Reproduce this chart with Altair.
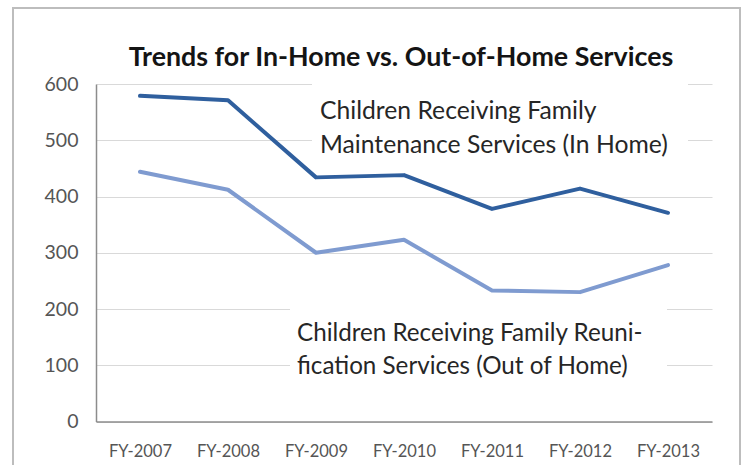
import altair as alt
import pandas as pd

years = ["FY-2007", "FY-2008", "FY-2009", "FY-2010", "FY-2011", "FY-2012", "FY-2013"]
in_home = [579, 571, 434, 438, 378, 414, 371]
out_of_home = [444, 412, 300, 323, 233, 230, 278]
series_names = ["In Home", "Out of Home"]
y_ticks = [0, 100, 200, 300, 400, 500, 600]

title_text = "Trends for In-Home vs. Out-of-Home Services"
label_in = ["Children Receiving Family", "Maintenance Services (In Home)"]
label_out = ["Children Receiving Family Reuni-", "fication Services (Out of Home)"]

FONT = "Lato"
W, H = 616, 337.5

df = pd.DataFrame({
    "year": years * 2,
    "value": in_home + out_of_home,
    "series": [series_names[0]] * len(years) + [series_names[1]] * len(years),
})

x_enc = alt.X("year:O", sort=years, scale=alt.Scale(type="point", padding=0.5),
              axis=alt.Axis(title=None, labelAngle=0, ticks=False, domain=True,
                            domainColor="#8c8c8c", domainWidth=1.5, grid=False,
                            labelFont=FONT, labelFontSize=16.5, labelColor="#555555",
                            labelPadding=22))
y_enc = alt.Y("value:Q", scale=alt.Scale(domain=[0, 600], nice=False),
              axis=alt.Axis(title=None, values=y_ticks, ticks=False, domain=True,
                            domainColor="#8c8c8c", domainWidth=1.5,
                            grid=True, gridColor="#d9d9d9", gridWidth=1,
                            labelFont=FONT, labelFontSize=19.5, labelColor="#555555",
                            labelPadding=18))

one = pd.DataFrame({"a": [0]})

frame = alt.Chart(one).mark_rect(
    fill="white", fillOpacity=0, stroke="#bdbdbd", strokeWidth=2
).encode(x=alt.value(-83), x2=alt.value(644), y=alt.value(-76), y2=alt.value(420))

grid_layer = alt.Chart(df).mark_line(opacity=0).encode(x=x_enc, y=y_enc)

box_top = alt.Chart(one).mark_rect(fill="white").encode(
    x=alt.value(216), x2=alt.value(592), y=alt.value(-6), y2=alt.value(80))
box_bot = alt.Chart(one).mark_rect(fill="white").encode(
    x=alt.value(194), x2=alt.value(571), y=alt.value(214), y2=alt.value(300))

lines = alt.Chart(df).mark_line(strokeWidth=4, strokeCap="round", strokeJoin="round").encode(
    x=alt.X("year:O", sort=years),
    y=alt.Y("value:Q"),
    color=alt.Color("series:N", scale=alt.Scale(domain=series_names,
                                                range=["#2f5f9e", "#7f9bd0"]),
                    legend=None),
)

title = alt.Chart(one).mark_text(
    align="center", baseline="alphabetic", font=FONT, fontSize=26.8, fontWeight="bold",
    color="#141414"
).encode(x=alt.value(305), y=alt.value(-18), text=alt.value(title_text))

txt_top = alt.Chart(one).mark_text(
    align="left", baseline="alphabetic", font=FONT, fontSize=24.7, lineHeight=33.5,
    color="#262626"
).encode(x=alt.value(224), y=alt.value(35), text=alt.value(label_in))

txt_bot = alt.Chart(one).mark_text(
    align="left", baseline="alphabetic", font=FONT, fontSize=24.2, lineHeight=32.5,
    color="#262626"
).encode(x=alt.value(201), y=alt.value(257), text=alt.value(label_out))

chart = alt.layer(frame, grid_layer, box_top, box_bot, lines, title, txt_top, txt_bot).properties(
    width=W, height=H,
    autosize=alt.AutoSizeParams(type="none"),
    padding={"left": 96, "top": 84, "right": 40, "bottom": 43.5},
    background="white",
).configure_view(stroke=None)

chart.save("out.html", embed_options={"renderer": "svg", "actions": False})
